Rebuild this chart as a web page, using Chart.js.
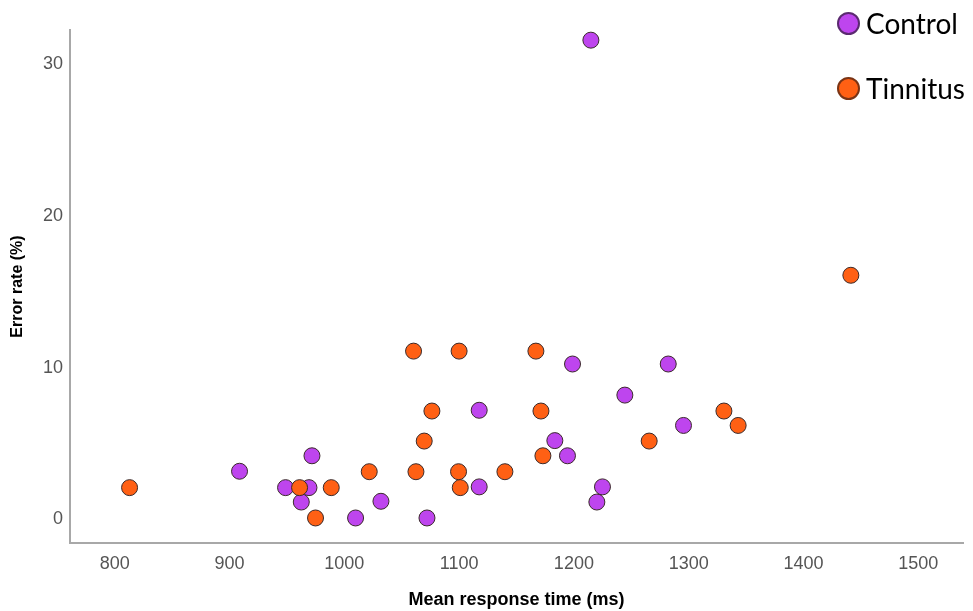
<!DOCTYPE html>
<html>
<head>
<meta charset="utf-8">
<script src="https://cdn.jsdelivr.net/npm/chart.js@4"></script>
<style>
  html, body { margin: 0; padding: 0; background: #fff; }
  #wrap { position: relative; width: 973px; height: 611px; }
  #legend { position: absolute; left: 836px; top: 0; font-family: Lato, "Noto Sans", sans-serif; font-size: 28px; color: #000; }
  .item { position: absolute; left: 0; height: 30px; line-height: 30px; white-space: nowrap; }
  .dot { position: absolute; left: 1px; top: 3px; width: 23px; height: 23px; border-radius: 50%; box-sizing: border-box; border: 2px solid; }
  .lbl { position: absolute; left: 30px; top: -1px; }
</style>
</head>
<body>
<div id="wrap">
  <canvas id="chart" width="973" height="611"></canvas>
  <div id="legend"></div>
</div>
<script>
// tick values
const xTicks = [800, 900, 1000, 1100, 1200, 1300, 1400, 1500];
const yTicks = [0, 10, 20, 30];

// Control group
const controlRT  = [908.7, 948.8, 969.2, 971.8, 962.5, 1009.8, 1031.9, 1072, 1117.5, 1117.5, 1183.4, 1194.4, 1198.8, 1244.4, 1224.9, 1220, 1282.2, 1295.5, 1214.8];
const controlErr = [3.18, 2.1, 2.1, 4.2, 1.15, 0.1, 1.2, 0.1, 7.2, 2.15, 5.2, 4.2, 10.25, 8.2, 2.15, 1.15, 10.25, 6.2, 31.6];

// Tinnitus group
const tinnitusRT  = [812.9, 961, 974.9, 988.6, 1021.7, 1060.3, 1076.3, 1069.6, 1062.4, 1100, 1099.5, 1101, 1139.9, 1166.9, 1171.3, 1173, 1265.6, 1330.7, 1343.1, 1441.3];
const tinnitusErr = [2.1, 2.1, 0.1, 2.1, 3.15, 11.1, 7.15, 5.17, 3.15, 11.1, 3.15, 2.1, 3.15, 11.1, 7.15, 4.2, 5.17, 7.15, 6.2, 16.1];

const groupNames = ['Control', 'Tinnitus'];
const groupColors = ['#BE45EE', '#FF6014'];
const legendBorders = ['#5b2a70', '#7a3415'];

function toPoints(xs, ys) {
    return xs.map((x, i) => ({ x: x, y: ys[i] }));
}

function make_dataset(name, data, color, order) {
    return {
        label: name,
        data: data,
        backgroundColor: color,
        borderColor: '#3a2a2a',
        borderWidth: 1,
        pointRadius: 8,
        pointHoverRadius: 8,
        order: order
    };
}

const tickFont = { family: '"Liberation Sans", Arial, sans-serif', size: 18 };

const ctx = document.getElementById('chart').getContext('2d');
new Chart(ctx, {
    type: 'scatter',
    data: {
        datasets: [
            // tinnitus dots sit on top of control dots
            make_dataset(groupNames[0], toPoints(controlRT, controlErr), groupColors[0], 1),
            make_dataset(groupNames[1], toPoints(tinnitusRT, tinnitusErr), groupColors[1], 0)
        ]
    },
    options: {
        responsive: false,
        animation: false,
        layout: { padding: { top: 30, right: 10, left: 0, bottom: 0 } },
        plugins: {
            legend: { display: false },
            tooltip: { enabled: false }
        },
        scales: {
            x: {
                type: 'linear',
                min: 761,
                max: 1539,
                afterBuildTicks: (axis) => { axis.ticks = xTicks.map(v => ({ value: v })); },
                afterFit: (axis) => { axis.height = 68; },
                grid: { display: false, drawTicks: false },
                border: { color: '#a8a8a8', width: 2 },
                ticks: { font: tickFont, color: '#555', padding: 10, callback: (v) => String(v) },
                title: {
                    display: true, text: 'Mean response time (ms)', color: '#000',
                    font: { family: '"Liberation Sans", Arial, sans-serif', size: 18, weight: 'bold' },
                    padding: { top: 0, bottom: 0 }
                }
            },
            y: {
                type: 'linear',
                min: -1.55,
                max: 32.27,
                afterBuildTicks: (axis) => { axis.ticks = yTicks.map(v => ({ value: v })); },
                afterFit: (axis) => { axis.width = 70; },
                grid: { display: false, drawTicks: false },
                border: { color: '#a8a8a8', width: 2 },
                ticks: { font: tickFont, color: '#555', padding: 7, callback: (v) => String(v) },
                title: {
                    display: true, text: 'Error rate (%)', color: '#000',
                    font: { family: '"Liberation Sans", Arial, sans-serif', size: 16, weight: 'bold' },
                    padding: { top: 8, bottom: 0 }
                }
            }
        }
    }
});

// legend in the top right corner
const legend = document.getElementById('legend');
const legendTops = [9, 74];
groupNames.forEach((name, i) => {
    const item = document.createElement('div');
    item.className = 'item';
    item.style.top = legendTops[i] + 'px';
    item.innerHTML = '<span class="dot" style="background:' + groupColors[i] + ';border-color:' + legendBorders[i] + '"></span><span class="lbl">' + name + '</span>';
    legend.appendChild(item);
});
</script>
</body>
</html>
